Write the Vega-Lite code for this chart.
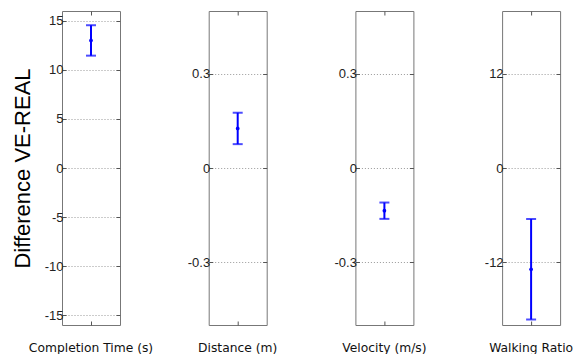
{
  "$schema": "https://vega.github.io/schema/vega-lite/v6.json",
  "padding": {"left": 10, "top": 10, "right": 0, "bottom": 0},
  "background": "white",
  "bounds": "flush",
  "spacing": 88.7,
  "data": {"values": [
    {"var": "Completion Time (s)", "mean": 13.0, "lo": 11.45, "hi": 14.55},
    {"var": "Distance (m)", "mean": 0.126, "lo": 0.076, "hi": 0.176},
    {"var": "Velocity (m/s)", "mean": -0.136, "lo": -0.162, "hi": -0.110},
    {"var": "Walking Ratio", "mean": -12.9, "lo": -19.3, "hi": -6.5}
  ]},
  "hconcat": [
    {
      "width": 58, "height": 314,
      "transform": [{"filter": "datum.var === 'Completion Time (s)'"}],
      "layer": [
        {"mark": {"type": "rule", "color": "#0000ff", "strokeWidth": 2},
         "encoding": {
           "x": {"field": "var", "type": "nominal", "axis": {"title": null, "labelAngle": 0, "labelFont": "DejaVu Sans", "labelFontSize": 12.3, "labelColor": "#111", "tickSize": -4, "tickColor": "#555", "labelPadding": 20, "domain": false, "grid": false}},
           "y": {"field": "lo", "type": "quantitative", "scale": {"domain": [-16, 16], "nice": false, "zero": false},
                 "axis": {"values": [-15, -10, -5, 0, 5, 10, 15], "format": "d", "title": "Difference VE-REAL", "titleFont": "Liberation Sans", "titleFontSize": 22, "titleFontWeight": "normal", "titleColor": "#000", "titlePadding": 10, "grid": true, "gridDash": [1, 2], "gridColor": "#999", "domain": false, "tickSize": -4, "tickColor": "#555", "labelPadding": 3, "labelFont": "Liberation Sans", "labelFontSize": 13, "labelColor": "#222", "labelExpr": "replace(datum.label, '\u2212', '-')"}},
           "y2": {"field": "hi"}
         }},
        {"mark": {"type": "tick", "color": "#0000ff", "thickness": 2, "size": 10},
         "encoding": {"x": {"field": "var", "type": "nominal", "axis": null}, "y": {"field": "lo", "type": "quantitative", "axis": null}}},
        {"mark": {"type": "tick", "color": "#0000ff", "thickness": 2, "size": 10},
         "encoding": {"x": {"field": "var", "type": "nominal", "axis": null}, "y": {"field": "hi", "type": "quantitative", "axis": null}}},
        {"mark": {"type": "point", "filled": true, "color": "#0000ff", "size": 14, "opacity": 1},
         "encoding": {
           "x": {"field": "var", "type": "nominal", "axis": {"orient": "top", "labels": false, "title": null, "tickSize": -4, "tickColor": "#555", "domain": false, "grid": false}},
           "y": {"field": "mean", "type": "quantitative", "axis": {"orient": "right", "values": [-15, -10, -5, 0, 5, 10, 15], "labels": false, "title": null, "tickSize": -4, "tickColor": "#555", "domain": false, "grid": false}}
         }}
      ],
      "resolve": {"axis": {"x": "independent", "y": "independent"}}
    },
    {
      "width": 58, "height": 314,
      "transform": [{"filter": "datum.var === 'Distance (m)'"}],
      "layer": [
        {"mark": {"type": "rule", "color": "#0000ff", "strokeWidth": 2},
         "encoding": {
           "x": {"field": "var", "type": "nominal", "axis": {"title": null, "labelAngle": 0, "labelFont": "DejaVu Sans", "labelFontSize": 12.3, "labelColor": "#111", "tickSize": -4, "tickColor": "#555", "labelPadding": 20, "domain": false, "grid": false}},
           "y": {"field": "lo", "type": "quantitative", "scale": {"domain": [-0.5, 0.5], "nice": false, "zero": false},
                 "axis": {"values": [-0.3, 0, 0.3], "format": "~g", "title": null, "grid": true, "gridDash": [1, 2], "gridColor": "#999", "domain": false, "tickSize": -4, "tickColor": "#555", "labelPadding": 3, "labelFont": "Liberation Sans", "labelFontSize": 13, "labelColor": "#222", "labelExpr": "replace(datum.label, '\u2212', '-')"}},
           "y2": {"field": "hi"}
         }},
        {"mark": {"type": "tick", "color": "#0000ff", "thickness": 2, "size": 10},
         "encoding": {"x": {"field": "var", "type": "nominal", "axis": null}, "y": {"field": "lo", "type": "quantitative", "axis": null}}},
        {"mark": {"type": "tick", "color": "#0000ff", "thickness": 2, "size": 10},
         "encoding": {"x": {"field": "var", "type": "nominal", "axis": null}, "y": {"field": "hi", "type": "quantitative", "axis": null}}},
        {"mark": {"type": "point", "filled": true, "color": "#0000ff", "size": 14, "opacity": 1},
         "encoding": {
           "x": {"field": "var", "type": "nominal", "axis": {"orient": "top", "labels": false, "title": null, "tickSize": -4, "tickColor": "#555", "domain": false, "grid": false}},
           "y": {"field": "mean", "type": "quantitative", "axis": {"orient": "right", "values": [-0.3, 0, 0.3], "labels": false, "title": null, "tickSize": -4, "tickColor": "#555", "domain": false, "grid": false}}
         }}
      ],
      "resolve": {"axis": {"x": "independent", "y": "independent"}}
    },
    {
      "width": 58, "height": 314,
      "transform": [{"filter": "datum.var === 'Velocity (m/s)'"}],
      "layer": [
        {"mark": {"type": "rule", "color": "#0000ff", "strokeWidth": 2},
         "encoding": {
           "x": {"field": "var", "type": "nominal", "axis": {"title": null, "labelAngle": 0, "labelFont": "DejaVu Sans", "labelFontSize": 12.3, "labelColor": "#111", "tickSize": -4, "tickColor": "#555", "labelPadding": 20, "domain": false, "grid": false}},
           "y": {"field": "lo", "type": "quantitative", "scale": {"domain": [-0.5, 0.5], "nice": false, "zero": false},
                 "axis": {"values": [-0.3, 0, 0.3], "format": "~g", "title": null, "grid": true, "gridDash": [1, 2], "gridColor": "#999", "domain": false, "tickSize": -4, "tickColor": "#555", "labelPadding": 3, "labelFont": "Liberation Sans", "labelFontSize": 13, "labelColor": "#222", "labelExpr": "replace(datum.label, '\u2212', '-')"}},
           "y2": {"field": "hi"}
         }},
        {"mark": {"type": "tick", "color": "#0000ff", "thickness": 2, "size": 10},
         "encoding": {"x": {"field": "var", "type": "nominal", "axis": null}, "y": {"field": "lo", "type": "quantitative", "axis": null}}},
        {"mark": {"type": "tick", "color": "#0000ff", "thickness": 2, "size": 10},
         "encoding": {"x": {"field": "var", "type": "nominal", "axis": null}, "y": {"field": "hi", "type": "quantitative", "axis": null}}},
        {"mark": {"type": "point", "filled": true, "color": "#0000ff", "size": 14, "opacity": 1},
         "encoding": {
           "x": {"field": "var", "type": "nominal", "axis": {"orient": "top", "labels": false, "title": null, "tickSize": -4, "tickColor": "#555", "domain": false, "grid": false}},
           "y": {"field": "mean", "type": "quantitative", "axis": {"orient": "right", "values": [-0.3, 0, 0.3], "labels": false, "title": null, "tickSize": -4, "tickColor": "#555", "domain": false, "grid": false}}
         }}
      ],
      "resolve": {"axis": {"x": "independent", "y": "independent"}}
    },
    {
      "width": 58, "height": 314,
      "transform": [{"filter": "datum.var === 'Walking Ratio'"}],
      "layer": [
        {"mark": {"type": "rule", "color": "#0000ff", "strokeWidth": 2},
         "encoding": {
           "x": {"field": "var", "type": "nominal", "axis": {"title": null, "labelAngle": 0, "labelFont": "DejaVu Sans", "labelFontSize": 12.3, "labelColor": "#111", "tickSize": -4, "tickColor": "#555", "labelPadding": 20, "domain": false, "grid": false}},
           "y": {"field": "lo", "type": "quantitative", "scale": {"domain": [-20, 20], "nice": false, "zero": false},
                 "axis": {"values": [-12, 0, 12], "format": "d", "title": null, "grid": true, "gridDash": [1, 2], "gridColor": "#999", "domain": false, "tickSize": -4, "tickColor": "#555", "labelPadding": 3, "labelFont": "Liberation Sans", "labelFontSize": 13, "labelColor": "#222", "labelExpr": "replace(datum.label, '\u2212', '-')"}},
           "y2": {"field": "hi"}
         }},
        {"mark": {"type": "tick", "color": "#0000ff", "thickness": 2, "size": 10},
         "encoding": {"x": {"field": "var", "type": "nominal", "axis": null}, "y": {"field": "lo", "type": "quantitative", "axis": null}}},
        {"mark": {"type": "tick", "color": "#0000ff", "thickness": 2, "size": 10},
         "encoding": {"x": {"field": "var", "type": "nominal", "axis": null}, "y": {"field": "hi", "type": "quantitative", "axis": null}}},
        {"mark": {"type": "point", "filled": true, "color": "#0000ff", "size": 14, "opacity": 1},
         "encoding": {
           "x": {"field": "var", "type": "nominal", "axis": {"orient": "top", "labels": false, "title": null, "tickSize": -4, "tickColor": "#555", "domain": false, "grid": false}},
           "y": {"field": "mean", "type": "quantitative", "axis": {"orient": "right", "values": [-12, 0, 12], "labels": false, "title": null, "tickSize": -4, "tickColor": "#555", "domain": false, "grid": false}}
         }}
      ],
      "resolve": {"axis": {"x": "independent", "y": "independent"}}
    }
  ],
  "config": {
    "view": {"stroke": "#777", "strokeWidth": 1}
  }
}
